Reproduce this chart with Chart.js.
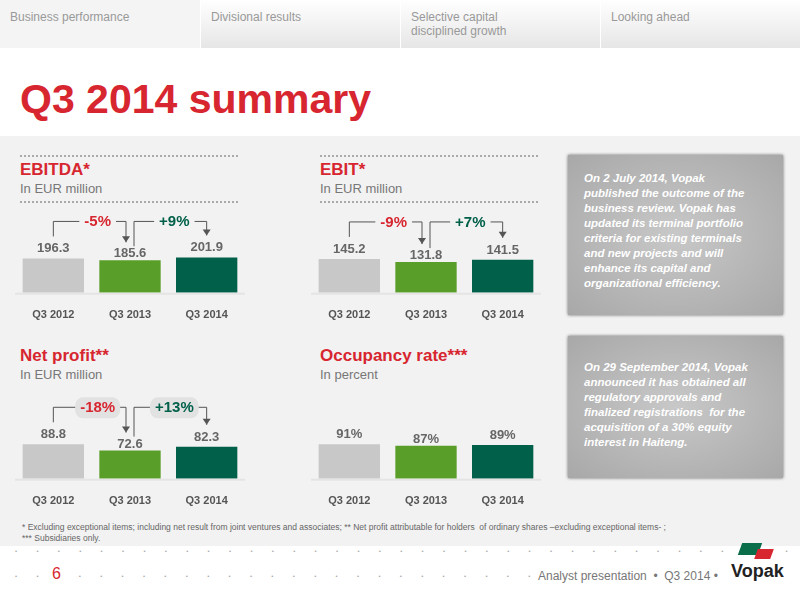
<!DOCTYPE html>
<html><head><meta charset="utf-8">
<script src="https://cdn.jsdelivr.net/npm/chart.js@4"></script>
<style>
body{margin:0;width:800px;height:600px;position:relative;font-family:"Liberation Sans",Arial,sans-serif;background:#fff;overflow:hidden}
.tab{position:absolute;top:0;height:48px;font-size:12px;color:#999;padding:10px 10px;box-sizing:border-box;background:linear-gradient(#fff,#e6e6e6)}
.panel{position:absolute;left:0;top:136px;width:800px;height:410px;background:#f2f2f2}
.ttl{position:absolute;color:#d7262f;font-weight:bold;font-size:17px}
.sub{position:absolute;color:#777;font-size:13px}
.dots{position:absolute;height:0;border-top:2px dotted #aaa;width:218px}
.note{position:absolute;left:568px;width:215px;background:radial-gradient(#c8c8c8,#a8a8a8);box-shadow:0 0 3px #666;color:#fff;font-weight:bold;font-style:italic;font-size:11.5px;padding:16px 28px 0 16px;box-sizing:border-box;line-height:15px}
canvas{position:absolute}
.fdots{position:absolute;left:0;width:800px;font-size:6px;color:#aaa;letter-spacing:19.3px;z-index:2}
</style></head><body>
<div class="tab" style="left:0;width:200px;background:#f4f4f4">Business performance</div>
<div class="tab" style="left:201px;width:199px">Divisional results</div>
<div class="tab" style="left:401px;width:199px">Selective capital<br>disciplined growth</div>
<div class="tab" style="left:601px;width:199px">Looking ahead</div>
<div style="position:absolute;left:20px;top:76px;font-size:41px;font-weight:bold;color:#d7262f">Q3 2014 summary</div>
<div class="panel"></div>
<div class="dots" style="left:20px;top:155px"></div><div class="dots" style="left:20px;top:201px"></div>
<div class="dots" style="left:320px;top:155px"></div><div class="dots" style="left:320px;top:201px"></div>
<div class="ttl" style="left:20px;top:160px">EBITDA*</div><div class="sub" style="left:20px;top:181px">In EUR million</div>
<div class="ttl" style="left:320px;top:160px">EBIT*</div><div class="sub" style="left:320px;top:181px">In EUR million</div>
<div class="ttl" style="left:20px;top:346px">Net profit**</div><div class="sub" style="left:20px;top:367px">In EUR million</div>
<div class="ttl" style="left:320px;top:346px">Occupancy rate***</div><div class="sub" style="left:320px;top:367px">In percent</div>
<div class="note" style="top:155px;height:160px">On 2 July 2014, Vopak published the outcome of the business review. Vopak has updated its terminal portfolio criteria for existing terminals and new projects and will enhance its capital and organizational efficiency.</div>
<div class="note" style="top:336px;height:142px;padding-top:24px">On 29 September 2014, Vopak announced it has obtained all regulatory approvals and finalized registrations &nbsp;for the acquisition of a 30% equity interest in Haiteng.</div>
<canvas id="c1" width="230" height="130" style="left:15px;top:200px"></canvas>
<canvas id="c2" width="230" height="130" style="left:311px;top:200px"></canvas>
<canvas id="c3" width="230" height="130" style="left:15px;top:386px"></canvas>
<canvas id="c4" width="230" height="130" style="left:311px;top:386px"></canvas>
<div style="position:absolute;left:22px;top:522px;font-size:8.5px;color:#666;line-height:11px">* Excluding exceptional items; including net result from joint ventures and associates; ** Net profit attributable for holders &nbsp;of ordinary shares –excluding exceptional items- ;<br>*** Subsidiaries only.</div>
<div class="fdots" style="top:548px;left:15px">••••••••••••••••••••••••••••••••••••••••</div>
<div class="fdots" style="top:573px;left:15px">••&nbsp;••••••••••••••••••••••••••</div>
<div style="position:absolute;left:52px;top:565px;font-size:16px;color:#d7262f">6</div>
<div style="position:absolute;left:538px;top:569px;font-size:12px;color:#777;background:#fff;z-index:3">Analyst presentation &nbsp;• &nbsp;Q3 2014 •</div>
<div style="position:absolute;left:731px;top:561px;font-size:18px;font-weight:bold;color:#222;background:#fff;z-index:3">Vopak</div>
<div style="position:absolute;left:740px;top:543px;width:20px;height:12px;background:#0a6e4a;transform:skewX(-20deg);z-index:3"></div>
<div style="position:absolute;left:756px;top:549px;width:16px;height:10px;background:#d7262f;transform:skewX(-20deg);z-index:3"></div>
<script>
const periods = ['Q3 2012', 'Q3 2013', 'Q3 2014'];
const ebitda = [196.3, 185.6, 201.9];
const ebit = [145.2, 131.8, 141.5];
const netProfit = [88.8, 72.6, 82.3];
const occupancy = [91, 87, 89];
const ebitdaChange = ['-5%', '+9%'];
const ebitChange = ['-9%', '+7%'];
const netChange = ['-18%', '+13%'];
const barColors = ['#c8c8c8', '#5a9e2a', '#006049'];

const labelPlugin = {
  id: 'labels',
  afterDraw(chart, args, o) {
    const ctx = chart.ctx;
    const bars = chart.getDatasetMeta(0).data;
    const base = chart.scales.y.getPixelForValue(0);
    ctx.save();
    ctx.strokeStyle = '#e4e4e4'; ctx.lineWidth = 2;
    ctx.beginPath(); ctx.moveTo(0, base + 1); ctx.lineTo(chart.width, base + 1); ctx.stroke();
    ctx.font = 'bold 13px "Liberation Sans", Arial';
    ctx.fillStyle = '#666'; ctx.textAlign = 'center';
    bars.forEach((b, i) => {
      const v = chart.data.datasets[0].data[i];
      const txt = o.unit === '%' ? v + '%' : v.toFixed(1);
      ctx.fillText(txt, b.x, b.y - 6 + (i === 1 ? 3 : 0));
    });
    if (o.changes && o.changes.length) {
      const top = bars[0].y - 37;
      const pairs = [[bars[0].x, bars[1].x - 4], [bars[1].x + 4, bars[2].x]];
      pairs.forEach((p, i) => {
        const y0 = i === 0 ? bars[0].y - 22 : bars[1].y - 14;
        const y1 = i === 0 ? bars[1].y - 18 : bars[2].y - 22;
        ctx.strokeStyle = '#555'; ctx.lineWidth = 1;
        ctx.beginPath(); ctx.moveTo(p[0], y0); ctx.lineTo(p[0], top); ctx.lineTo(p[1], top); ctx.lineTo(p[1], y1); ctx.stroke();
        ctx.fillStyle = '#555';
        ctx.beginPath(); ctx.moveTo(p[1] - 4, y1 - 6); ctx.lineTo(p[1] + 4, y1 - 6); ctx.lineTo(p[1], y1); ctx.fill();
        const mx = (p[0] + p[1]) / 2 + (i === 0 ? 8 : 4);
        ctx.font = 'bold 15px "Liberation Sans", Arial';
        const w = ctx.measureText(o.changes[i]).width + 10;
        ctx.fillStyle = o.box ? '#e2e2e2' : '#f2f2f2';
        ctx.beginPath(); ctx.roundRect(mx - w / 2, top - 10, w, 21, o.box ? 8 : 0); ctx.fill();
        ctx.fillStyle = i === 0 ? '#d7262f' : '#006049';
        ctx.fillText(o.changes[i], mx, top + 5);
      });
    }
    ctx.restore();
  }
};

function makeChart(id, values, changes, max, unit, box) {
  new Chart(document.getElementById(id), {
    type: 'bar',
    data: { labels: periods, datasets: [{ data: values, backgroundColor: barColors }] },
    options: {
      responsive: false, animation: false,
      layout: { padding: { top: 45, left: 0, right: 0 } },
      datasets: { bar: { barPercentage: 0.8, categoryPercentage: 1 } },
      plugins: { legend: { display: false }, tooltip: { enabled: false }, labels: { changes, unit, box } },
      scales: {
        x: { grid: { display: false }, border: { display: false },
             ticks: { color: '#555', font: { size: 11, weight: 'bold', family: '"Liberation Sans", Arial' }, padding: 8 } },
        y: { display: false, min: 0, max: max }
      }
    },
    plugins: [labelPlugin]
  });
}
makeChart('c1', ebitda, ebitdaChange, 273, '', false);
makeChart('c2', ebit, ebitChange, 205, '', false);
makeChart('c3', netProfit, netChange, 123, '', true);
makeChart('c4', occupancy, [], 126, '%', false);
</script>
</body></html>
